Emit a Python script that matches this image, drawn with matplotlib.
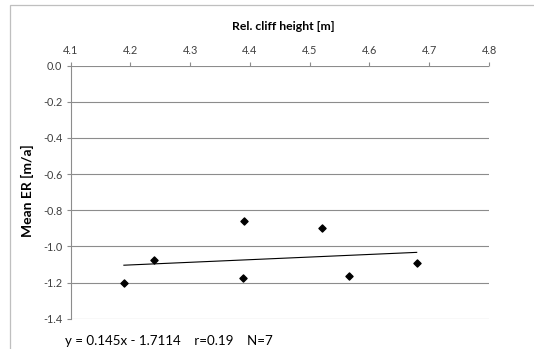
import matplotlib.pyplot as plt
from matplotlib.patches import Rectangle

# relative cliff height [m] vs mean erosion rate [m/a]
cliff_height = [4.189, 4.239, 4.390, 4.388, 4.521, 4.566, 4.679]
mean_er = [-1.203, -1.077, -0.862, -1.174, -0.899, -1.163, -1.092]

slope = 0.145
intercept = -1.7114
r_value = 0.19

x_ticks = [4.1, 4.2, 4.3, 4.4, 4.5, 4.6, 4.7, 4.8]
y_ticks = [0.0, -0.2, -0.4, -0.6, -0.8, -1.0, -1.2, -1.4]

plt.rcParams['font.family'] = ['Lato', 'DejaVu Sans']

fig = plt.figure(figsize=(5.34, 3.49), dpi=100)
fig.patches.append(Rectangle((10 / 534, -0.2), 1.2, 1.2 - 5 / 349,
                             transform=fig.transFigure, fill=False,
                             edgecolor='#bfbfbf', linewidth=0.9))

ax = fig.add_axes([70.7 / 534, 30.3 / 349, 418.3 / 534, 253 / 349])

grid_col = '#8c8c8c'
for v in y_ticks:
    ax.axhline(v, color=grid_col, linewidth=0.8, zorder=1)

ax.scatter(cliff_height, mean_er, marker='D', s=13, color='black', zorder=3)

x0, x1 = min(cliff_height), max(cliff_height)
ax.plot([x0, x1], [slope * x0 + intercept, slope * x1 + intercept],
        color='black', linewidth=0.8, zorder=2)

ax.set_xlim(4.1, 4.8)
ax.set_ylim(-1.4, 0.0)
ax.set_xticks(x_ticks)
ax.set_xticklabels([f'{t:.1f}' for t in x_ticks])
ax.set_yticks(y_ticks)
ax.set_yticklabels([f'{t:.1f}' for t in y_ticks])

ax.xaxis.tick_top()
ax.tick_params(axis='x', direction='out', length=3, width=0.8, color=grid_col,
               labelsize=7.8, labelcolor='#404040', pad=4)
ax.tick_params(axis='y', direction='out', length=3, width=0.8, color=grid_col,
               labelsize=7.8, labelcolor='#404040', pad=3)

for side in ['right', 'bottom', 'top']:
    ax.spines[side].set_visible(False)
ax.spines['left'].set_color(grid_col)
ax.spines['left'].set_linewidth(0.8)

fig.text(283 / 534, 1 - 26 / 349, 'Rel. cliff height [m]', ha='center',
         va='center', fontsize=8.8, fontweight='bold')
fig.text(27 / 534, 1 - 191 / 349, 'Mean ER [m/a]', ha='center', va='center',
         rotation=90, fontsize=10, fontweight='bold')
fig.text(65 / 534, 1 - 341 / 349,
         f'y = {slope}x - {abs(intercept)}    r={r_value}    N={len(cliff_height)}',
         ha='left', va='center', fontsize=9.6)

fig.savefig('out.png', dpi=100)
